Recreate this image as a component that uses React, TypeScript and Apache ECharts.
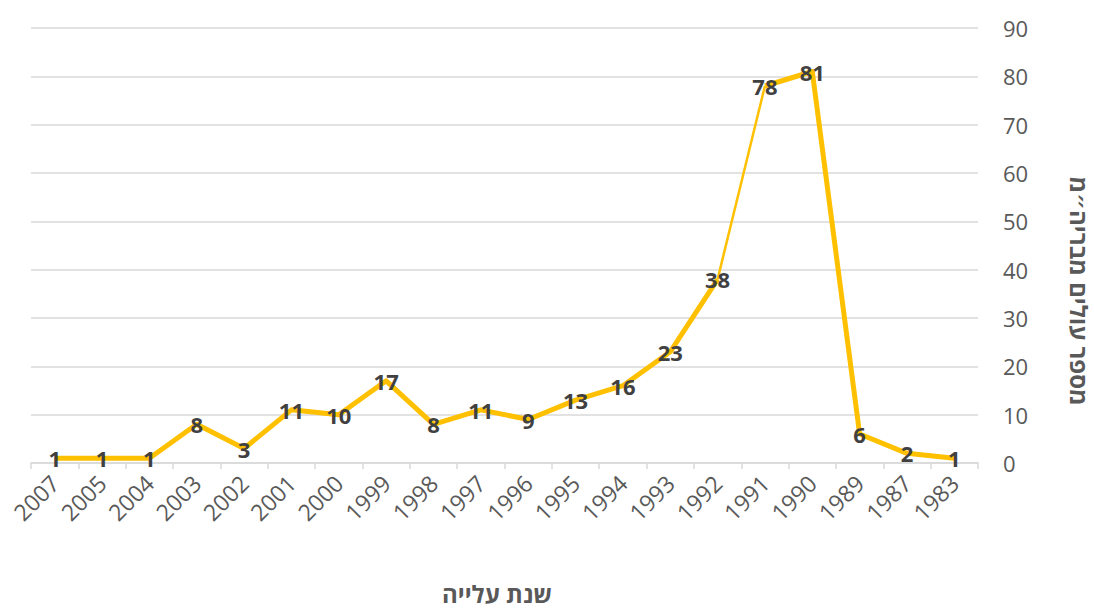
import React, { useEffect, useRef } from "react";
import * as echarts from "echarts";

const categories = [
  "2007", "2005", "2004", "2003", "2002", "2001", "2000", "1999", "1998", "1997",
  "1996", "1995", "1994", "1993", "1992", "1991", "1990", "1989", "1987", "1983",
];
const values = [1, 1, 1, 8, 3, 11, 10, 17, 8, 11, 9, 13, 16, 23, 38, 78, 81, 6, 2, 1];
const xTitle = "שנת עלייה";
const yTitle = "מספר עולים מבריה״מ";

// the segment 1992 -> 1991 is drawn thinner in the original
const thinFrom = 14;
const thinTo = 15;

const FONT = "'Open Sans', 'DejaVu Sans', sans-serif";

const part = (from: number, to: number) =>
  values.map((v, i) => (i >= from && i <= to ? v : null));

export default function App() {
  const ref = useRef<HTMLDivElement>(null);
  useEffect(() => {
    if (!ref.current) return;
    const chart = echarts.init(ref.current, undefined, { renderer: "svg" });
    const lineBase = {
      type: "line",
      symbol: "none",
      connectNulls: false,
      silent: true,
      itemStyle: { color: "#FFC000" },
    };
    chart.setOption({
      animation: false,
      textStyle: { fontFamily: FONT },
      grid: { left: 31, right: 116, top: 28, bottom: 147, containLabel: false },
      xAxis: {
        type: "category",
        data: categories,
        boundaryGap: true,
        axisLine: { show: true, lineStyle: { color: "#d9d9d9", width: 1.5 } },
        axisTick: { show: true, length: 6, lineStyle: { color: "#d9d9d9", width: 1.5 } },
        axisLabel: {
          rotate: 45,
          interval: 0,
          margin: 16,
          fontSize: 23,
          color: "#595959",
          fontFamily: FONT,
        },
      },
      yAxis: {
        type: "value",
        position: "right",
        min: 0,
        max: 90,
        interval: 10,
        axisLine: { show: false },
        axisTick: { show: false },
        axisLabel: { fontSize: 22, color: "#595959", margin: 25, fontFamily: FONT },
        splitLine: { lineStyle: { color: "#d9d9d9", width: 1.5 } },
      },
      series: [
        { ...lineBase, data: part(0, thinFrom), lineStyle: { color: "#FFC000", width: 5, join: "round" } },
        { ...lineBase, data: part(thinFrom, thinTo), lineStyle: { color: "#FFC000", width: 2.5 } },
        { ...lineBase, data: part(thinTo, values.length - 1), lineStyle: { color: "#FFC000", width: 5, join: "round" } },
        {
          type: "line",
          data: values,
          symbol: "circle",
          symbolSize: 4,
          showSymbol: true,
          silent: true,
          itemStyle: { color: "rgba(0,0,0,0)", borderWidth: 0 },
          lineStyle: { width: 0, color: "rgba(0,0,0,0)" },
          z: 5,
          label: {
            show: true,
            position: "inside",
            fontSize: 22,
            fontWeight: "bold",
            color: "#404040",
            fontFamily: FONT,
          },
        },
      ],
      graphic: [
        {
          type: "text",
          x: 497,
          y: 593,
          style: {
            text: xTitle,
            font: `bold 24px ${FONT}`,
            fill: "#595959",
            align: "center",
            verticalAlign: "middle",
          },
        },
        {
          type: "text",
          x: 1079,
          y: 291,
          rotation: -Math.PI / 2,
          style: {
            text: yTitle,
            font: `bold 24px ${FONT}`,
            fill: "#595959",
            align: "center",
            verticalAlign: "middle",
          },
        },
      ],
    });
    return () => chart.dispose();
  }, []);
  return (
    <div
      ref={ref}
      style={{ position: "fixed", left: 0, top: 0, width: 1094, height: 610, background: "#fff" }}
    />
  );
}
